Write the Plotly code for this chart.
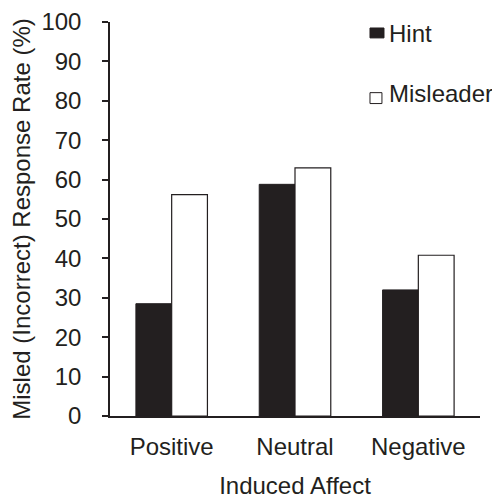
import plotly.graph_objects as go

categories = ["Positive", "Neutral", "Negative"]
hint_values = [28.5, 58.8, 32.0]
misleader_values = [56.2, 63.0, 40.8]
y_ticks = [0, 10, 20, 30, 40, 50, 60, 70, 80, 90, 100]
series_names = ["Hint", "Misleader"]

FONT = "Liberation Sans, Arial, sans-serif"
INK = "#231f20"
FS = 24

fig = go.Figure()
fig.add_trace(go.Bar(
    x=categories, y=hint_values, name=series_names[0],
    marker=dict(color=INK, line=dict(color=INK, width=1)),
))
fig.add_trace(go.Bar(
    x=categories, y=misleader_values, name=series_names[1],
    marker=dict(color="white", line=dict(color=INK, width=1.2)),
))

# manual legend (swatch + label), placed like the original figure
legend_items = [
    dict(name=series_names[0], fill=INK, sx=(0.7027, 0.7405), sy=(0.9596, 0.9848), ty=0.972),
    dict(name=series_names[1], fill="white", sx=(0.7027, 0.735), sy=(0.793, 0.8207), ty=0.8194),
]
shapes = []
annotations = []
for it in legend_items:
    shapes.append(dict(type="rect", xref="paper", yref="paper",
                       x0=it["sx"][0], x1=it["sx"][1], y0=it["sy"][0], y1=it["sy"][1],
                       fillcolor=it["fill"], line=dict(color=INK, width=1)))
    annotations.append(dict(text=it["name"], xref="paper", yref="paper",
                            x=0.748, y=it["ty"], xanchor="left", yanchor="middle",
                            showarrow=False, font=dict(family=FONT, size=FS, color=INK)))

# the page body has an 8px default margin, so the figure is sized to fit the window
fig.update_layout(
    width=492, height=491,
    margin=dict(l=102, r=20, t=14, b=83),
    plot_bgcolor="white", paper_bgcolor="white",
    font=dict(family=FONT, size=FS, color=INK),
    barmode="group", bargap=0.42, bargroupgap=0,
    showlegend=False,
    shapes=shapes, annotations=annotations,
    xaxis=dict(
        range=[-0.5, 2.5], showline=True, linecolor=INK, linewidth=1.5,
        ticks="", showgrid=False, zeroline=False, automargin=False,
        tickfont=dict(size=FS),
        title=dict(text="Induced Affect", standoff=28, font=dict(size=FS)),
        ticklabelstandoff=8,
    ),
    yaxis=dict(
        range=[0, 100], tickvals=y_ticks, showline=True, linecolor=INK,
        linewidth=1.5, ticks="outside", ticklen=6, tickwidth=1.5,
        tickcolor=INK, showgrid=False, zeroline=False, automargin=False,
        tickfont=dict(size=FS), ticklabeloverflow="allow",
        title=dict(text="Misled (Incorrect) Response Rate (%)", standoff=10, font=dict(size=FS)),
        ticklabelstandoff=16,
    ),
)

fig.write_html("out.html")
